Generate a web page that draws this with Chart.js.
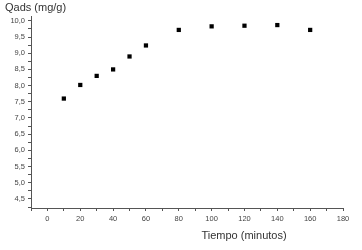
<!DOCTYPE html>
<html>
<head>
<meta charset="utf-8">
<script src="https://cdn.jsdelivr.net/npm/chart.js@4"></script>
<style>
  html, body { margin: 0; padding: 0; background: #fff; }
  #wrap { width: 362px; height: 250px; }
</style>
</head>
<body>
<div id="wrap"><canvas id="qadsChart"></canvas></div>
<script>
// tiempo (min) vs Qads (mg/g)
const tiempo = [10, 20, 30, 40, 50, 60, 80, 100, 120, 140, 160];
const qads = [7.6, 8.02, 8.3, 8.5, 8.9, 9.24, 9.72, 9.83, 9.85, 9.87, 9.72];
const yLabel = 'Qads (mg/g)';
const xLabel = 'Tiempo (minutos)';

const FONT = "'Liberation Sans', Arial, sans-serif";

// draws the two axis titles where the original has them
const axisTitles = {
    id: 'axisTitles',
    afterDraw(chart) {
        const ctx = chart.ctx;
        ctx.save();
        ctx.fillStyle = '#333';
        ctx.textBaseline = 'middle';
        ctx.font = '11px ' + FONT;
        ctx.textAlign = 'left';
        ctx.fillText(yLabel, 5, 8);
        ctx.textAlign = 'center';
        ctx.fillText(xLabel, 244, 236);
        ctx.restore();
    }
};

new Chart(document.getElementById('qadsChart'), {
    type: 'scatter',
    data: {
        datasets: [{
            data: tiempo.map((t, i) => ({ x: t, y: qads[i] })),
            pointStyle: 'rect',
            pointRadius: 3,
            backgroundColor: '#000',
            borderColor: '#000',
            borderWidth: 0,
        }],
    },
    options: {
        responsive: true,
        maintainAspectRatio: false,
        animation: false,
        layout: { padding: { top: 16, right: 19, left: 0, bottom: 0 } },
        plugins: {
            legend: { display: false },
            tooltip: { enabled: false },
        },
        scales: {
            x: {
                type: 'linear',
                min: -10,
                max: 180,
                afterFit(scale) { scale.height = 42; },
                border: { color: '#555', width: 1 },
                grid: { drawOnChartArea: false, drawTicks: true, tickLength: 3, color: '#555' },
                ticks: {
                    stepSize: 10,
                    includeBounds: false,
                    maxRotation: 0,
                    autoSkip: false,
                    padding: 3,
                    color: '#444',
                    font: { size: 7.5, family: FONT },
                    callback: v => (v % 20 === 0 ? String(v) : ''),
                },
            },
            y: {
                type: 'linear',
                min: 4.22,
                max: 10.15,
                afterFit(scale) { scale.width = 31; },
                border: { color: '#555', width: 1 },
                grid: { drawOnChartArea: false, drawTicks: true, tickLength: 3, color: '#555' },
                ticks: {
                    stepSize: 0.25,
                    includeBounds: false,
                    autoSkip: false,
                    padding: 3,
                    color: '#444',
                    font: { size: 7.5, family: FONT },
                    callback: v => {
                        const r = Math.round(v * 100) / 100;
                        return (Math.abs(r * 2 - Math.round(r * 2)) < 1e-6) ? r.toFixed(1).replace('.', ',') : '';
                    },
                },
            },
        },
    },
    plugins: [axisTitles],
});
</script>
</body>
</html>
